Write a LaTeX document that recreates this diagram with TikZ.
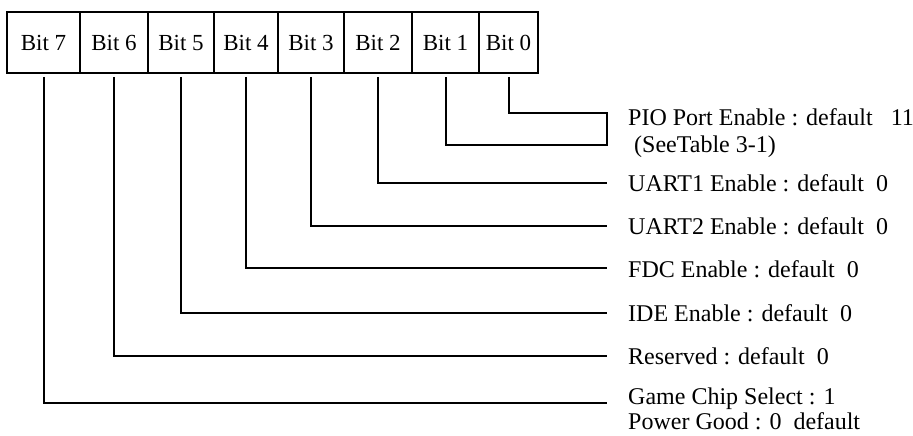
\documentclass[tikz,border=0pt]{standalone}
\usepackage{fontspec}
\setmainfont{Liberation Serif}
\usepackage{tikz}
\usetikzlibrary{positioning}
\usetikzlibrary{calc}

\begin{document}
\begin{tikzpicture}
  [
    x=1pt,y=-1pt,
    bit/.style={
      draw,
      line width=2pt,
      minimum height=61pt,
      inner sep=0pt,
      outer sep=0pt,
      font=\fontsize{23}{27}\selectfont
    },
    wire/.style={
      line width=2pt,
      shorten <=4pt
    },
    lbl/.style={
      anchor=base west,
      inner sep=0pt,
      font=\fontsize{24}{28}\selectfont
    }
  ]
  \useasboundingbox (0,0) rectangle (913,436);
  % bits
  \node [bit,minimum width=73pt] (b7) at (43.5,42.5) {Bit 7};
  \node [bit,minimum width=68pt,right=0pt of b7] (b6) {Bit 6};
  \node [bit,minimum width=66pt,right=0pt of b6] (b5) {Bit 5};
  \node [bit,minimum width=64pt,right=0pt of b5] (b4) {Bit 4};
  \node [bit,minimum width=66pt,right=0pt of b4] (b3) {Bit 3};
  \node [bit,minimum width=68pt,right=0pt of b3] (b2) {Bit 2};
  \node [bit,minimum width=67pt,right=0pt of b2] (b1) {Bit 1};
  \node [bit,minimum width=59pt,right=0pt of b1] (b0) {Bit 0};
  % line ends
  \coordinate (e0) at (607,113);
  \coordinate (e1) at (607,145);
  \coordinate (e2) at (607,183);
  \coordinate (e3) at (607,226);
  \coordinate (e4) at (607,268);
  \coordinate (e5) at (607,313);
  \coordinate (e6) at (607,356);
  \coordinate (e7) at (607,403);
  % lines
  \draw [wire,shorten >=4pt] (b0.south) |- (e0) -- (e1) -| (b1.south);
  \draw [wire] (b2.south) |- (e2);
  \draw [wire] (b3.south) |- (e3);
  \draw [wire] (b4.south) |- (e4);
  \draw [wire] (b5.south) |- (e5);
  \draw [wire] (b6.south) |- (e6);
  \draw [wire] (b7.south) |- (e7);
  % labels
  \node [lbl] (t0) at (628,125) {PIO Port Enable : default \ \ 11};
  \node [lbl] (t1) at (628,152) {\ (SeeTable 3-1)};
  \node [lbl] (t2) at (628,191) {UART1 Enable : default \ 0};
  \node [lbl] (t3) at (628,234) {UART2 Enable : default \ 0};
  \node [lbl] (t4) at (628,277) {FDC Enable : default \ 0};
  \node [lbl] (t5) at (628,321) {IDE Enable : default \ 0};
  \node [lbl] (t6) at (628,364) {Reserved : default \ 0};
  \node [lbl] (t7) at (628,404) {Game Chip Select : 1};
  \node [lbl] (t8) at (628,429) {Power Good : 0 \ default};
\end{tikzpicture}
\end{document}
